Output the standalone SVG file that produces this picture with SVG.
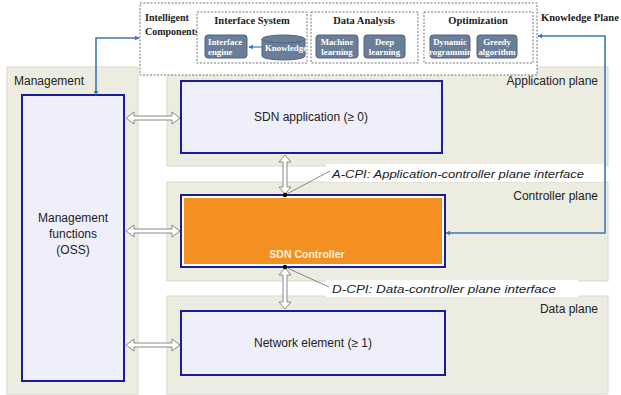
<svg xmlns="http://www.w3.org/2000/svg" width="621" height="395" viewBox="0 0 621 395">
<style>
.plane{fill:#ecece0;stroke:#d9dacb;stroke-width:1}
.box{fill:#efeffc;stroke:#1c1c96;stroke-width:2}
.lbl{font-family:"Liberation Sans",Arial,sans-serif;font-size:12px;fill:#222}
.ital{font-family:"Liberation Sans",Arial,sans-serif;font-size:11.5px;font-style:italic;fill:#222}
.dash{fill:#fff;stroke:#777;stroke-width:1;stroke-dasharray:2,1.5}
.ser{font-family:"Liberation Serif","Times New Roman",serif;font-weight:bold;font-size:10px;fill:#222}
.sm{fill:#6a7e98;stroke:#4d6482;stroke-width:1}
.smt{font-family:"Liberation Serif","Times New Roman",serif;font-weight:bold;font-size:8.8px;fill:#fff}
.harr{fill:#fff;stroke:#8a8a8a;stroke-width:1}
.blue{fill:none;stroke:#3b78b8;stroke-width:1.6}
.pt{fill:none;stroke:#888;stroke-width:1}
</style>
<defs>
<marker id="ah" viewBox="0 0 8 8" refX="7" refY="4" markerWidth="5" markerHeight="5" orient="auto-start-reverse" markerUnits="userSpaceOnUse">
<path d="M0,0 L8,4 L0,8 Z" fill="#3b78b8"/>
</marker>
</defs>
<rect width="621" height="395" fill="#fff"/>

<g id="management">
<rect class="plane" x="7" y="67" width="131" height="327"/>
<text class="lbl" x="14" y="85">Management</text>
</g>
<g id="application-plane">
<rect class="plane" x="167" y="67" width="441" height="99"/>
<text class="lbl" x="598" y="85" text-anchor="end">Application plane</text>
</g>
<g id="controller-plane">
<rect class="plane" x="167" y="182" width="441" height="99"/>
<text class="lbl" x="598" y="200" text-anchor="end">Controller plane</text>
</g>
<g id="data-plane">
<rect class="plane" x="167" y="296" width="441" height="98"/>
<text class="lbl" x="598" y="313" text-anchor="end">Data plane</text>
</g>

<g id="intelligent-components">
<rect class="dash" x="140" y="3" width="397" height="72"/>
<text class="ser" x="145" y="21">Intelligent</text>
<text class="ser" x="145" y="35">Components</text>
</g>
<g id="interface-system">
<rect class="dash" x="197" y="12" width="110" height="51"/>
<text class="ser" x="252" y="24" text-anchor="middle" style="font-size:10.5px">Interface System</text>
</g>
<g id="interface-engine">
<rect class="sm" x="205" y="35" width="42" height="23" rx="3"/>
<text class="smt" x="208" y="45">Interface</text>
<text class="smt" x="208" y="55">engine</text>
</g>
<g id="knowledge">
<path class="sm" d="M262,39 A21.5,4 0 0 1 305,39 V56 A21.5,4 0 0 1 262,56 Z"/>
<path d="M262,39 A21.5,4 0 0 0 305,39" fill="none" stroke="#4d6482" stroke-width="1"/>
<text class="smt" x="265" y="51">Knowledge</text>
</g>
<g id="data-analysis">
<rect class="dash" x="311" y="12" width="107" height="51"/>
<text class="ser" x="364" y="24" text-anchor="middle" style="font-size:10.5px">Data Analysis</text>
</g>
<g id="machine-learning">
<rect class="sm" x="316" y="35" width="42" height="23" rx="3"/>
<text class="smt" x="337" y="45" text-anchor="middle">Machine</text>
<text class="smt" x="337" y="55" text-anchor="middle">learning</text>
</g>
<g id="deep-learning">
<rect class="sm" x="364" y="35" width="41" height="23" rx="3"/>
<text class="smt" x="384.5" y="45" text-anchor="middle">Deep</text>
<text class="smt" x="384.5" y="55" text-anchor="middle">learning</text>
</g>
<g id="optimization">
<rect class="dash" x="424" y="12" width="109" height="51"/>
<text class="ser" x="478" y="24" text-anchor="middle" style="font-size:10.5px">Optimization</text>
</g>
<g id="dynamic-programming">
<rect class="sm" x="430" y="35" width="40" height="23" rx="3"/>
<text class="smt" x="450" y="45" text-anchor="middle">Dynamic</text>
<text class="smt" x="450" y="55" text-anchor="middle">Programming</text>
</g>
<g id="greedy-algorithm">
<rect class="sm" x="477" y="35" width="40" height="23" rx="3"/>
<text class="smt" x="497" y="45" text-anchor="middle">Greedy</text>
<text class="smt" x="497" y="55" text-anchor="middle">algorithm</text>
</g>
<g id="knowledge-plane">
<text class="ser" x="541" y="21" style="font-size:10.5px">Knowledge Plane</text>
</g>

<g id="management-functions">
<rect class="box" x="22" y="95" width="102" height="286"/>
<text class="lbl" x="73" y="222" text-anchor="middle">Management</text>
<text class="lbl" x="73" y="238" text-anchor="middle">functions</text>
<text class="lbl" x="73" y="254" text-anchor="middle">(OSS)</text>
</g>
<g id="sdn-application">
<rect class="box" x="181" y="81" width="261" height="72"/>
<text class="lbl" x="311" y="121" text-anchor="middle">SDN application  (≥ 0)</text>
</g>
<g id="sdn-controller">
<rect x="181" y="195" width="264" height="72" fill="#fff" stroke="#1c1c96" stroke-width="2"/>
<rect x="184" y="198" width="258" height="66" fill="#f39021"/>
<text x="307" y="258" text-anchor="middle" style="font-family:'Liberation Sans',Arial,sans-serif;font-size:10.5px;font-weight:bold;fill:#fdf0dc">SDN Controller</text>
</g>
<g id="network-element">
<rect class="box" x="181" y="311" width="264" height="64"/>
<text class="lbl" x="313" y="347" text-anchor="middle">Network element (≥ 1)</text>
</g>

<g id="connectors">
<polygon class="harr" points="126,118 134,112 134,116 172,116 172,112 180,118 172,124 172,120 134,120 134,124"/>
<polygon class="harr" points="126,231 134,225 134,229 172,229 172,225 180,231 172,237 172,233 134,233 134,237"/>
<polygon class="harr" points="126,345 134,339 134,343 172,343 172,339 180,345 172,351 172,347 134,347 134,351"/>
<polygon class="harr" points="285,155 279,162 283,162 283,187 279,187 285,194 291,187 287,187 287,162 291,162"/>
<polygon class="harr" points="285,268 279,275 283,275 283,302 279,302 285,309 291,302 287,302 287,275 291,275"/>
<rect x="326" y="164" width="278" height="18" fill="#fff"/>
<rect x="326" y="280" width="252" height="17" fill="#fff"/>
<line class="pt" x1="285" y1="195" x2="330" y2="171"/>
<line class="pt" x1="285" y1="267" x2="329" y2="287"/>
<circle cx="285" cy="195" r="2.2" fill="#000"/>
<circle cx="285" cy="267" r="2.2" fill="#000"/>
<text class="ital" x="332" y="178" textLength="252" lengthAdjust="spacingAndGlyphs">A-CPI: Application-controller plane interface</text>
<text class="ital" x="332" y="293" textLength="224" lengthAdjust="spacingAndGlyphs">D-CPI: Data-controller plane interface</text>
<path class="blue" d="M96,95 V38 H139" marker-start="url(#ah)" marker-end="url(#ah)"/>
<path class="blue" d="M538,36 H605 V233 H446" marker-start="url(#ah)" marker-end="url(#ah)"/>
<path d="M262,47 H249" fill="none" stroke="#3b78b8" stroke-width="1.2" marker-end="url(#ah)"/>
</g>
</svg>
